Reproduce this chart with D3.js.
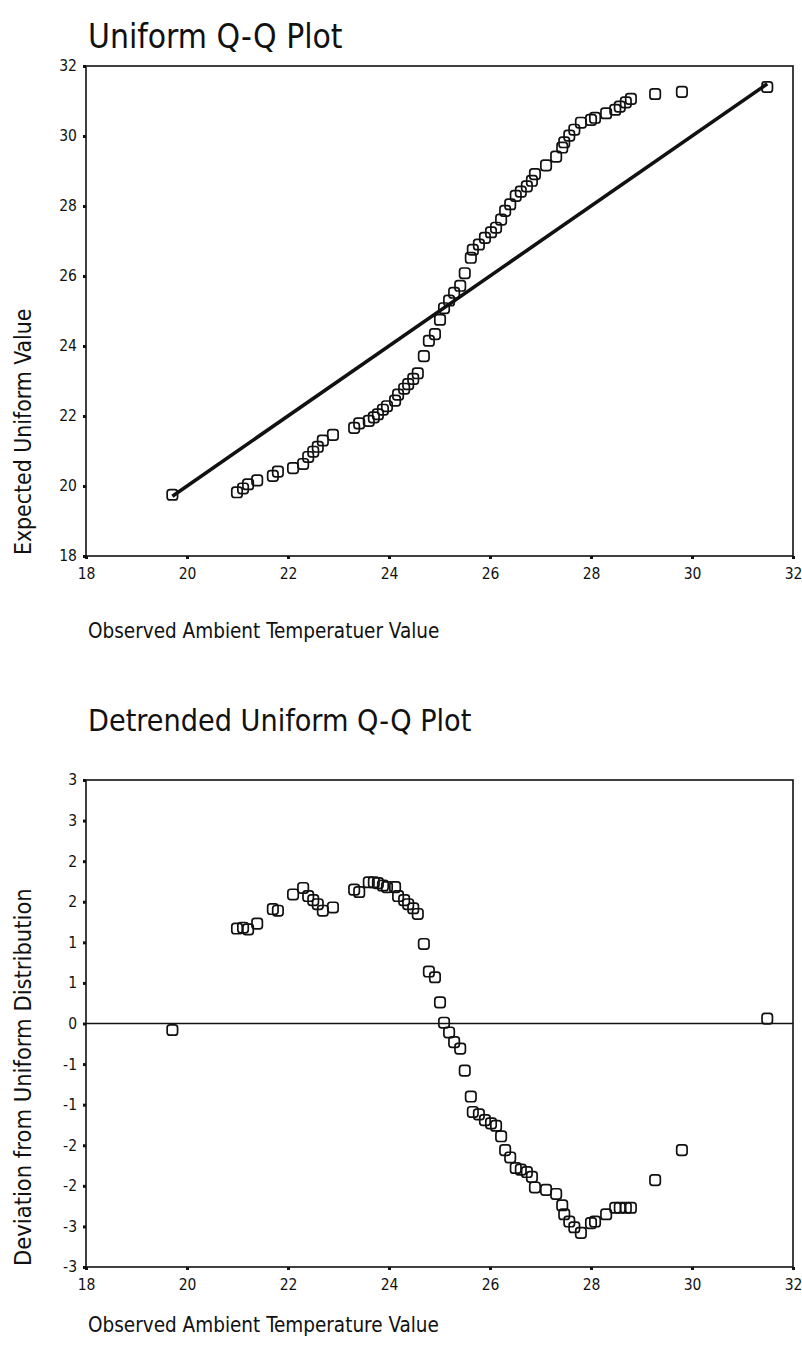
<!DOCTYPE html>
<html>
<head>
<meta charset="utf-8">
<script src="https://cdn.jsdelivr.net/npm/d3@7"></script>
<style>
  html, body { margin: 0; padding: 0; background: #fff; }
  svg { display: block; }
  text { font-family: "DejaVu Sans Condensed", "DejaVu Sans", sans-serif; fill: #111; }
</style>
</head>
<body>
<svg id="chart" width="802" height="1359"></svg>
<script>
// ---------------- data ----------------
const observed = [
  19.71, 20.99, 21.11, 21.21, 21.39, 21.70, 21.80, 22.10, 22.30, 22.40,
  22.50, 22.59, 22.69, 22.89, 23.31, 23.41, 23.60, 23.70, 23.78, 23.88,
  23.96, 24.12, 24.18, 24.30, 24.38, 24.48, 24.57, 24.69, 24.79, 24.91,
  25.01, 25.09, 25.19, 25.29, 25.41, 25.50, 25.62, 25.66, 25.78, 25.90,
  26.02, 26.12, 26.22, 26.30, 26.40, 26.51, 26.61, 26.73, 26.83, 26.89,
  27.11, 27.31, 27.43, 27.47, 27.57, 27.67, 27.80, 28.00, 28.08, 28.30,
  28.48, 28.57, 28.69, 28.79, 29.27, 29.80, 31.49
];
const expectedUniform = [
  19.75, 19.82, 19.93, 20.05, 20.16, 20.29, 20.41, 20.51, 20.63, 20.83,
  20.98, 21.12, 21.30, 21.46, 21.66, 21.79, 21.86, 21.96, 22.05, 22.18,
  22.28, 22.44, 22.61, 22.78, 22.91, 23.06, 23.22, 23.71, 24.15, 24.34,
  24.75, 25.08, 25.30, 25.52, 25.72, 26.08, 26.52, 26.75, 26.90, 27.09,
  27.25, 27.38, 27.61, 27.86, 28.05, 28.29, 28.41, 28.56, 28.72, 28.91,
  29.16, 29.41, 29.67, 29.82, 30.01, 30.18, 30.38, 30.46, 30.52, 30.65,
  30.75, 30.84, 30.96, 31.06, 31.20, 31.26, 31.40
];
const deviation = [
  -0.08, 1.17, 1.18, 1.16, 1.23, 1.41, 1.39, 1.59, 1.67, 1.57,
  1.52, 1.47, 1.39, 1.43, 1.65, 1.62, 1.74, 1.74, 1.73, 1.70,
  1.68, 1.68, 1.57, 1.52, 1.47, 1.42, 1.35, 0.98, 0.64, 0.57,
  0.26, 0.01, -0.11, -0.23, -0.31, -0.58, -0.90, -1.09, -1.12, -1.19,
  -1.23, -1.26, -1.39, -1.56, -1.65, -1.78, -1.80, -1.83, -1.89, -2.02,
  -2.05, -2.10, -2.24, -2.35, -2.44, -2.51, -2.58, -2.46, -2.44, -2.35,
  -2.27, -2.27, -2.27, -2.27, -1.93, -1.56, 0.06
];
const refLine = [19.71, 31.49];           // y = x reference line ends
const xTicks = [18, 20, 22, 24, 26, 28, 30, 32];
const yTicksTop = [18, 20, 22, 24, 26, 28, 30, 32];
const yTicksBottom = [-3, -2.5, -2, -1.5, -1, -0.5, 0, 0.5, 1, 1.5, 2, 2.5, 3];
const yTickLabelsBottom = ["-3", "-3", "-2", "-2", "-1", "-1", "0", "1", "1", "2", "2", "3", "3"];
const titles = ["Uniform Q-Q Plot", "Detrended Uniform Q-Q Plot"];
const xTitles = ["Observed Ambient Temperatuer Value", "Observed Ambient Temperature Value"];
const yTitles = ["Expected Uniform Value", "Deviation from Uniform Distribution"];

// ---------------- layout ----------------
const svg = d3.select("#chart");
svg.append("rect").attr("width", 802).attr("height", 1359).attr("fill", "#fff");

const L = 86, R = 793;
const top1 = 66, bot1 = 556;
const top2 = 780, bot2 = 1267;

const x1 = d3.scaleLinear().domain([18, 32]).range([L, R]);
const y1 = d3.scaleLinear().domain([18, 32]).range([bot1, top1]);
const x2 = d3.scaleLinear().domain([18, 32]).range([L, R]);
const y2 = d3.scaleLinear().domain([-3, 3]).range([bot2, top2]);

function styleAxis(g) {
  g.select(".domain").remove();
  g.selectAll(".tick line").attr("stroke", "#111").attr("stroke-width", 3);
  g.selectAll(".tick text")
    .attr("font-family", '"DejaVu Sans Condensed", "DejaVu Sans", sans-serif')
    .attr("font-size", 15.5).attr("fill", "#111");
}

function drawPanel(xs, ys, top, bot, yTickVals, yFmt, idx, titleY, titleSize, xTitleY, yTitleSize) {
  // title
  svg.append("text").attr("x", 88).attr("y", titleY)
    .attr("font-size", titleSize).text(titles[idx]);

  // axes
  svg.append("g").attr("transform", `translate(0,${bot})`)
    .call(d3.axisBottom(xs).tickValues(xTicks).tickSize(3).tickPadding(9).tickFormat(d3.format("d")))
    .call(styleAxis);
  svg.append("g").attr("transform", `translate(${L},0)`)
    .call(d3.axisLeft(ys).tickValues(yTickVals).tickSize(3).tickPadding(6).tickFormat(yFmt))
    .call(styleAxis);

  // frame
  svg.append("rect").attr("x", L).attr("y", top)
    .attr("width", R - L).attr("height", bot - top)
    .attr("fill", "none").attr("stroke", "#111").attr("stroke-width", 1.6);

  // axis titles
  svg.append("text").attr("x", 88).attr("y", xTitleY)
    .attr("font-family", '"DejaVu Sans", sans-serif')
    .attr("font-size", 20.5).text(xTitles[idx]);
  svg.append("text")
    .attr("transform", `translate(31,${bot - 1}) rotate(-90)`)
    .attr("text-anchor", "start")
    .attr("font-family", '"DejaVu Sans", sans-serif')
    .attr("font-size", yTitleSize).text(yTitles[idx]);
}

function marker(sel, xs, ys, xv, yv) {
  sel.selectAll("rect.pt").data(d3.range(xv.length)).join("rect")
    .attr("class", "pt")
    .attr("x", i => xs(xv[i]) - 5.2)
    .attr("y", i => ys(yv[i]) - 5.2)
    .attr("width", 10.4).attr("height", 10.4)
    .attr("rx", 2.8).attr("ry", 2.8)
    .attr("fill", "none").attr("stroke", "#111").attr("stroke-width", 1.7);
}

// ---- top panel ----
drawPanel(x1, y1, top1, bot1, yTicksTop, d3.format("d"), 0, 48, 33.3, 638, 22.8);
svg.append("line")
  .attr("x1", x1(refLine[0])).attr("y1", y1(refLine[0]))
  .attr("x2", x1(refLine[1])).attr("y2", y1(refLine[1]))
  .attr("stroke", "#111").attr("stroke-width", 3.6);
marker(svg.append("g"), x1, y1, observed, expectedUniform);

// ---- bottom panel ----
drawPanel(x2, y2, top2, bot2, yTicksBottom, (d, i) => yTickLabelsBottom[i], 1, 731, 30.2, 1332, 23.5);
svg.append("line")
  .attr("x1", L).attr("x2", R)
  .attr("y1", y2(0)).attr("y2", y2(0))
  .attr("stroke", "#111").attr("stroke-width", 1.6);
marker(svg.append("g"), x2, y2, observed, deviation);
</script>
</body>
</html>
